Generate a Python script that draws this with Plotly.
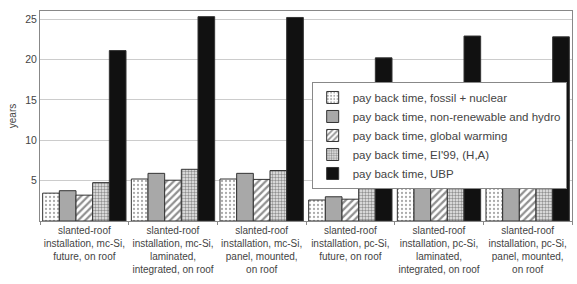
import plotly.graph_objects as go

categories = [
    "slanted-roof<br>installation, mc-Si,<br>future, on roof",
    "slanted-roof<br>installation, mc-Si,<br>laminated,<br>integrated, on roof",
    "slanted-roof<br>installation, mc-Si,<br>panel, mounted,<br>on roof",
    "slanted-roof<br>installation, pc-Si,<br>future, on roof",
    "slanted-roof<br>installation, pc-Si,<br>laminated,<br>integrated, on roof",
    "slanted-roof<br>installation, pc-Si,<br>panel, mounted,<br>on roof",
]
series_names = [
    "pay back time, fossil + nuclear",
    "pay back time, non-renewable and hydro",
    "pay back time, global warming",
    "pay back time, EI'99, (H,A)",
    "pay back time, UBP",
]
fossil_nuclear = [3.45, 5.2, 5.2, 2.6, 4.1, 4.1]
nonrenew_hydro = [3.75, 5.9, 5.9, 3.0, 4.7, 4.7]
global_warming = [3.2, 5.05, 5.15, 2.7, 4.1, 4.2]
ei99 = [4.75, 6.4, 6.25, 4.4, 5.8, 5.6]
ubp = [21.1, 25.3, 25.2, 20.2, 22.9, 22.8]
yticks = [5, 10, 15, 20, 25]

values = [fossil_nuclear, nonrenew_hydro, global_warming, ei99, ubp]
styles = [
    dict(color="white", pattern=dict(shape=".", fgcolor="#555555", bgcolor="white", size=4, solidity=0.25)),
    dict(color="#a8a8a8"),
    dict(color="white", pattern=dict(shape="/", fgcolor="#222222", bgcolor="white", size=5, solidity=0.45)),
    dict(color="white", pattern=dict(shape=".", fgcolor="#333333", bgcolor="#eeeeee", size=3, solidity=0.5)),
    dict(color="#111111"),
]

fig = go.Figure()
for name, vals, st in zip(series_names, values, styles):
    m = dict(st)
    m["line"] = dict(color="#333333", width=1)
    fig.add_trace(go.Bar(x=categories, y=vals, name=name, marker=m))

fig.update_layout(
    width=577, height=284,
    margin=dict(l=40, r=5, t=11, b=63),
    paper_bgcolor="white", plot_bgcolor="white",
    barmode="group", bargap=0.06, bargroupgap=0,
    font=dict(family="Liberation Sans, Arial", size=11, color="#444444"),
    showlegend=True,
    legend=dict(
        x=0.99, y=0.662, xanchor="right", yanchor="top",
        bgcolor="white", bordercolor="#888888", borderwidth=1,
        font=dict(size=11.5, color="#444444"),
        itemwidth=30, tracegroupgap=0,
    ),
    xaxis=dict(
        showline=True, linecolor="#888888", mirror=True,
        ticks="outside", tickson="boundaries", ticklen=3, tickcolor="#888888",
        tickangle=0,
        tickfont=dict(size=10, color="#444444"),
        showgrid=False,
    ),
    yaxis=dict(
        range=[0, 26], tickvals=yticks, showline=True, linecolor="#888888", mirror=True,
        showgrid=True, gridcolor="#cccccc", gridwidth=1,
        ticks="", tickfont=dict(size=10.5, color="#444444"),
        title=dict(text="years", font=dict(size=10, color="#444444"), standoff=6),
        zeroline=False,
    ),
)

fig.write_html("out.html")
